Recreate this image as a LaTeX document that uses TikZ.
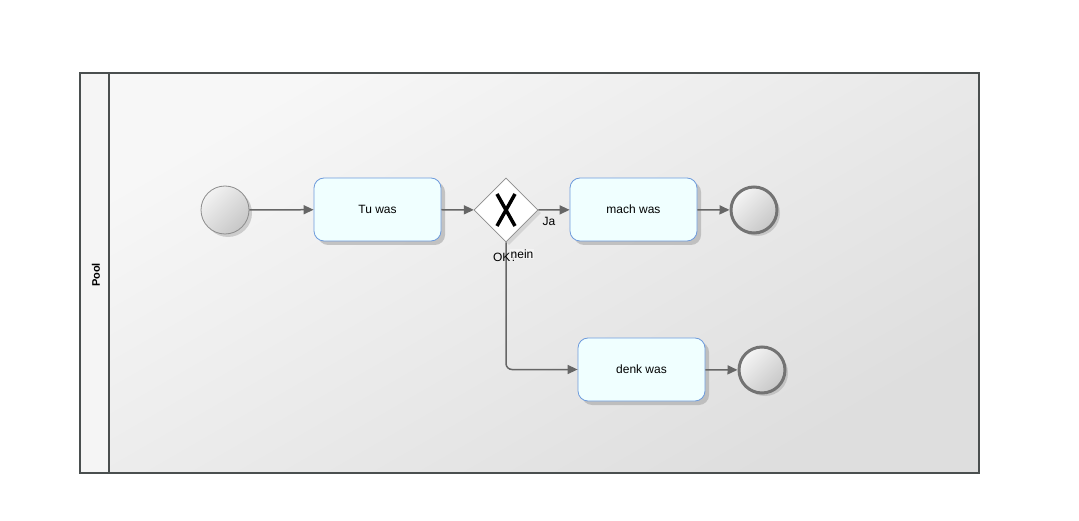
\documentclass[tikz,border=0pt]{standalone}
\usepackage{fontspec}
\setmainfont{Liberation Sans}
\usetikzlibrary{arrows.meta,shapes.geometric,shadows}
\definecolor{taskfill}{HTML}{F0FFFF}
\definecolor{taskline}{HTML}{6E9BDC}
\definecolor{flow}{HTML}{666666}
\definecolor{poolline}{HTML}{4A4F4F}
\tikzset{
  every node/.style={font=\fontsize{12}{14}\selectfont},
  taskbox/.style={draw=taskline, fill=taskfill, rounded corners=10pt, minimum width=127pt, minimum height=63pt, line width=0.8pt,
    drop shadow={shadow xshift=4pt, shadow yshift=-4pt, fill=black!35, opacity=0.6}},
  startev/.style={circle, draw=black!45, line width=0.8pt, minimum size=48pt, inner sep=0pt,
    top color=black!5, bottom color=black!22, shading angle=45,
    drop shadow={shadow xshift=3pt, shadow yshift=-3pt, fill=black!35, opacity=0.5}},
  endev/.style={circle, draw=black!55, line width=3pt, minimum size=46pt, inner sep=0pt,
    top color=black!4, bottom color=black!22, shading angle=45,
    drop shadow={shadow xshift=3pt, shadow yshift=-3pt, fill=black!35, opacity=0.5}},
  xgate/.style={diamond, draw=black!45, fill=white, line width=0.6pt, minimum width=64pt, minimum height=64pt, inner sep=0pt,
    drop shadow={shadow xshift=3pt, shadow yshift=-3pt, fill=black!30, opacity=0.4}},
  seqflow/.style={draw=flow, line width=1.5pt, -{Triangle[length=10pt,width=9pt]}, rounded corners=6pt},
  lbl/.style={font=\fontsize{12}{14}\selectfont, inner sep=1pt},
}
\begin{document}
\begin{tikzpicture}[x=1pt,y=-1pt]
\useasboundingbox (0,0) rectangle (1079,521);
\fill[white] (0,0) rectangle (1079,521);
% pool body and header strip
\shade[top color=black!3, bottom color=black!13, shading angle=30] (80,73) rectangle (979,473);
\fill[black!4] (80,73) rectangle (109,473);
\draw[poolline, line width=1.5pt] (80,73) rectangle (979,473);
\draw[poolline, line width=1.5pt] (109,73) -- (109,473);
\node[rotate=90, font=\bfseries\fontsize{11}{13}\selectfont] (pool) at (96,275) {Pool};

% flow objects
\node[startev] (start) at (225,210) {};
\node[taskbox] (tu) at (377.5,209.5) {Tu was};
\node[xgate] (gw) at (506,210) {};
\draw[black, line width=3.5pt] (497,194) -- (515,226) (515,194) -- (497,226);
\node[taskbox] (mach) at (633.5,209.5) {mach was};
\node[endev] (end1) at (754,210) {};
\node[taskbox] (denk) at (641.5,369.5) {denk was};
\node[endev] (end2) at (762,370) {};

% sequence flows
\draw[seqflow] (start) -- (tu);
\draw[seqflow] (tu) -- (gw);
\draw[seqflow] (gw.east) -- (mach);
\draw[seqflow] (mach) -- (end1);
\draw[seqflow] (gw.south) |- (denk.west);
\draw[seqflow] (denk) -- (end2);

% labels
\node[lbl] (ja) at (549,221) {Ja};
\node[lbl] (ok) at (505,257) {OK?};
\node[lbl, fill=black!4, fill opacity=0.8, text opacity=1] (nein) at (522,254) {nein};
\end{tikzpicture}
\end{document}
